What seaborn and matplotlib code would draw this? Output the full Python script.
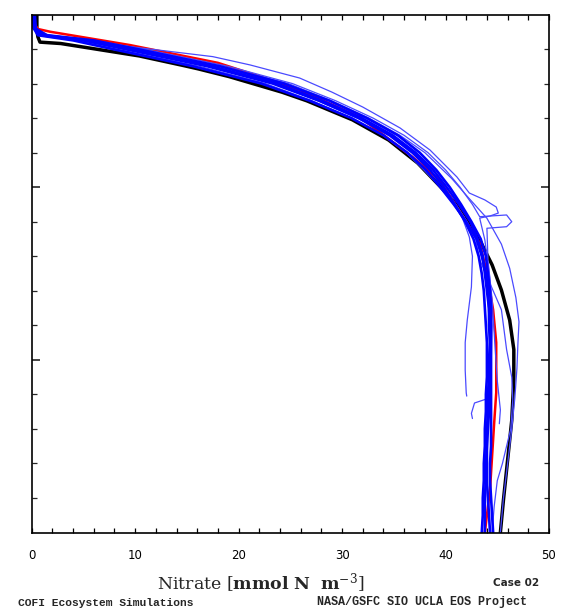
import matplotlib
matplotlib.use("Agg")
import matplotlib.pyplot as plt
import numpy as np
import seaborn as sns

# depth grid (m) shared by the dark model profiles
depth = [0, 8, 12, 15, 20, 30, 40, 50, 60, 70, 80, 90, 100, 110, 120, 130, 140, 150,
         160, 170, 180, 190, 200, 210, 220, 230, 240, 250, 260, 270, 280, 290, 300]

# dark blue model profiles (nitrate, mmol N m-3)
blue_a = [0.1, 0.2, 0.9, 5.0, 9.0, 17.0, 23.3, 27.8, 31.6, 34.6, 36.8, 38.5, 39.8, 40.9, 41.9,
          42.7, 43.2, 43.5, 43.7, 43.8, 43.9, 44.0, 44.0, 44.0, 43.9, 43.9, 43.8, 43.8, 43.7,
          43.7, 43.6, 43.6, 43.5]
blue_b = [0.2, 0.3, 1.5, 6.0, 10.2, 18.2, 24.4, 28.8, 32.4, 35.4, 37.5, 39.1, 40.4, 41.5, 42.5,
          43.4, 43.9, 44.1, 44.3, 44.4, 44.4, 44.4, 44.4, 44.4, 44.4, 44.4, 44.4, 44.4, 44.3,
          44.3, 44.4, 44.5, 44.6]
blue_c = [0.1, 0.2, 0.6, 4.0, 7.8, 15.6, 22.2, 26.9, 30.9, 34.0, 36.3, 38.1, 39.5, 40.8, 42.0,
          43.0, 43.5, 43.9, 44.1, 44.2, 44.2, 44.3, 44.3, 44.3, 44.2, 44.2, 44.1, 44.0, 43.9,
          43.9, 43.8, 43.8, 43.8]
blue_d = [0.3, 0.4, 1.2, 5.4, 9.5, 17.4, 23.7, 28.1, 31.9, 34.9, 37.1, 38.8, 40.1, 41.3, 42.4,
          43.1, 43.6, 43.8, 44.0, 44.2, 44.3, 44.3, 44.2, 44.2, 44.1, 44.1, 44.0, 44.0, 44.0,
          44.0, 44.1, 44.2, 44.3]

# thin blue profiles with their own depths
l1_depth = [0, 8, 13, 18.6, 24.4, 29.2, 36.8, 44.9, 53.6, 65.7, 78.5, 94.1, 103.4, 107.4,
            111.5, 115, 116.7, 117.9, 130.6, 153.8, 180, 205, 222, 225, 231, 234]
l1_no3 = [0.2, 0.3, 1.6, 9.5, 17.5, 21.1, 25.9, 29.0, 32.0, 35.6, 38.5, 41.1, 42.3, 43.8,
          44.9, 45.1, 44.3, 43.3, 43.8, 44.3, 44.5, 44.4, 44.3, 42.8, 42.5, 42.6]

l2_depth = [0, 8, 12, 15, 20, 30, 40, 50, 60, 70, 80, 90, 100, 110, 117.1, 116.1, 120,
            122.9, 123.8, 142, 165, 194, 212, 229, 237]
l2_no3 = [0.2, 0.3, 1.5, 6.0, 10.8, 19.0, 25.2, 29.4, 33.0, 36.0, 38.3, 40.0, 41.4, 42.6,
          43.3, 45.9, 46.4, 45.9, 44.0, 44.1, 44.5, 44.8, 45.0, 45.3, 45.2]

l3_depth = [0, 8, 12, 15, 20, 30, 40, 50, 60, 70, 80, 90, 105.7, 117.3, 128.9, 140, 157.8,
            177, 190, 206, 219.2, 221]
l3_no3 = [0.1, 0.2, 0.7, 4.2, 8.2, 16.2, 22.6, 27.1, 30.9, 34.0, 36.2, 37.9, 40.4, 41.6,
          42.3, 42.6, 42.5, 42.1, 41.9, 41.9, 42.0, 42.05]

l4_depth = [0, 8, 12, 15, 20, 30, 40, 50, 60, 70, 80, 95, 106, 118, 133, 147, 164, 178,
            190, 205, 222, 240, 260, 280, 300]
l4_no3 = [0.2, 0.3, 1.4, 5.6, 10.4, 18.4, 24.8, 29.0, 32.6, 35.6, 38.0, 40.6, 42.2, 44.0,
          45.4, 46.2, 46.8, 47.1, 47.0, 46.9, 46.7, 46.4, 46.0, 45.6, 45.3]

l5_depth = [0, 8, 12, 15, 20, 30, 40, 50, 60, 70, 80, 90, 100, 110, 120, 130, 142, 171,
            194, 210, 223, 240, 260, 270, 285, 300]
l5_no3 = [0.1, 0.2, 1.0, 4.8, 9.0, 17.0, 23.4, 27.7, 31.5, 34.7, 36.9, 38.5, 39.8, 41.0,
          42.1, 42.9, 43.3, 45.4, 45.9, 46.4, 46.5, 46.3, 45.5, 45.0, 44.7, 44.5]

# red profile
red_depth = [0, 4, 8.4, 10, 17.7, 28, 35, 43.7, 59.4, 82.5, 95.9, 111.5, 132.4, 149.7, 171,
             190, 219, 236.6, 275, 300]
red_no3 = [0.1, 0.1, 0.6, 1.8, 9.5, 18.0, 21.6, 25.9, 31.7, 36.8, 39.4, 41.1, 43.3, 44.0,
           44.6, 44.9, 44.9, 44.7, 44.3, 43.8]

# black profile
black_depth = [0, 9, 13, 16, 16.8, 24, 29.6, 31.5, 36, 45, 50, 61, 72.7, 86, 101.6, 116,
               130.6, 145, 159.6, 177, 194, 211.7, 235, 258, 281, 300]
black_no3 = [0.5, 0.5, 0.6, 0.8, 2.8, 10.4, 14.7, 16.1, 19.1, 24.2, 26.6, 31.0, 34.5, 37.3,
             39.8, 41.9, 43.3, 44.5, 45.4, 46.2, 46.6, 46.6, 46.4, 46.0, 45.6, 45.3]

W, H = 563, 612
sns.set_style("white")
fig = plt.figure(figsize=(W / 100, H / 100), dpi=100)
ax = fig.add_axes([31.7 / W, 1 - 532.5 / H, (549 - 31.7) / W, (532.5 - 14.5) / H])


def draw(x, y, color, lw):
    sns.lineplot(x=x, y=y, sort=False, estimator=None, color=color, lw=lw, ax=ax)


draw(black_no3, black_depth, "black", 2.5)
draw(red_no3, red_depth, "#ff0000", 1.8)
light = "#4a4aff"
for xs, ys in [(l1_no3, l1_depth), (l2_no3, l2_depth), (l3_no3, l3_depth),
               (l4_no3, l4_depth), (l5_no3, l5_depth)]:
    draw(xs, ys, light, 0.9)
for xs in [blue_c, blue_a, blue_b, blue_d]:
    draw(xs, depth, "#0000ff", 1.9)

ax.set_xlim(0, 50)
ax.set_ylim(300, 0)
ax.set_xlabel("")
ax.set_ylabel("")

xt = np.arange(0, 51, 2)
ax.set_xticks(xt)
ax.set_xticklabels([str(v) if v % 10 == 0 else "" for v in xt], fontsize=8.5)
ax.set_yticks([100, 200])
ax.set_yticks(np.arange(20, 300, 20), minor=True)
ax.set_yticklabels([])
ax.tick_params(axis="x", direction="in", length=3.6, width=0.9, top=True, bottom=True,
               pad=12, colors="black")
ax.tick_params(axis="y", which="major", direction="in", length=6, width=1.2,
               left=True, right=True)
ax.tick_params(axis="y", which="minor", direction="in", length=3.6, width=0.9,
               left=True, right=True)
for s in ax.spines.values():
    s.set_color("black")
    s.set_linewidth(1.2)

fig.text(261 / W, 1 - 583 / H,
         r"Nitrate $\left[\mathbf{mmol\ N\ \ m}^{-3}\right]$",
         ha="center", va="center", fontsize=12.5, family="DejaVu Serif",
         math_fontfamily="dejavuserif")
fig.text(516 / W, 1 - 583 / H, "Case 02", ha="center", va="center", fontsize=7.5,
         fontweight="bold", family="DejaVu Sans")
fig.text(194 / W, 1 - 603 / H, "COFI Ecosystem Simulations", ha="right", va="center",
         fontsize=8.1, fontweight="bold", family="Liberation Mono")
fig.text(527 / W, 1 - 602 / H, "NASA/GSFC SIO UCLA EOS Project", ha="right", va="center",
         fontsize=8.5, fontweight="bold", family="Liberation Mono")

fig.savefig("out.png", dpi=100)
